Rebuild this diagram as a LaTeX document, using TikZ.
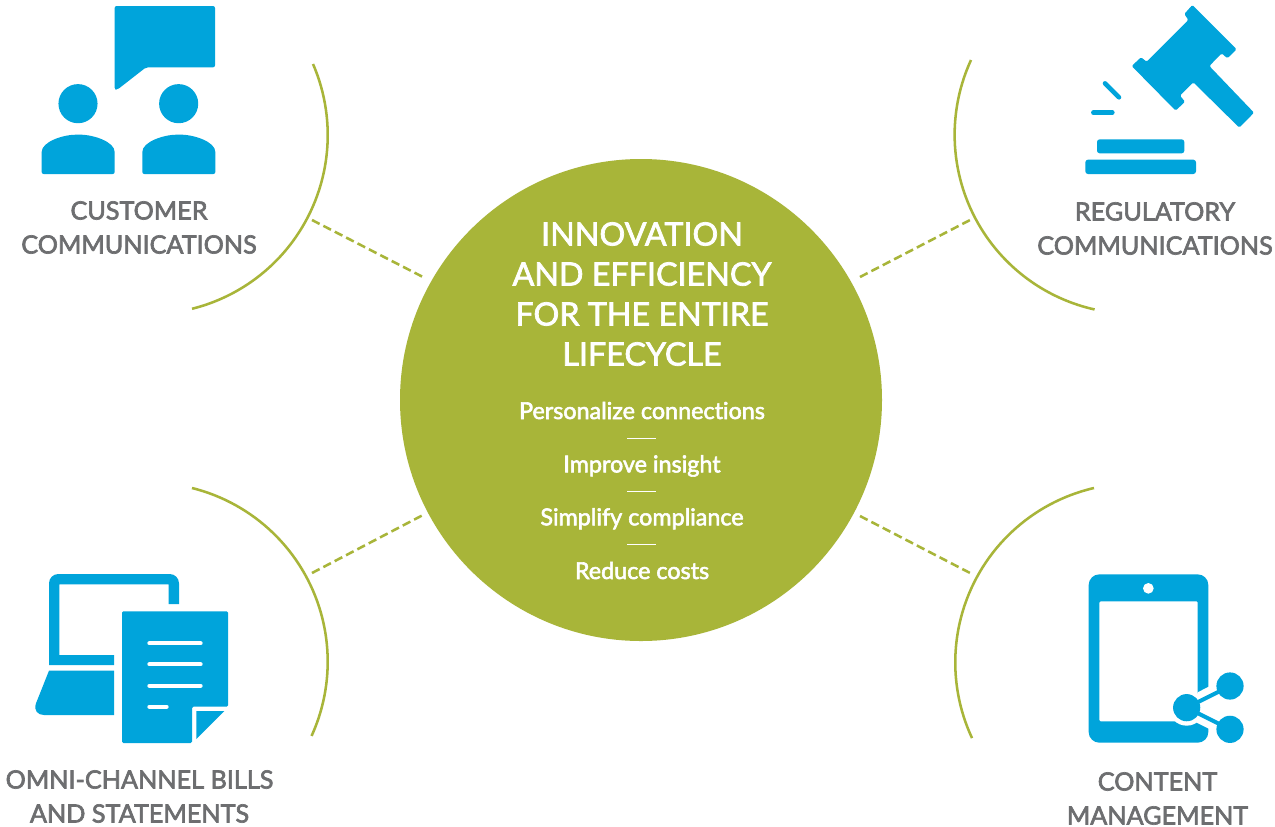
\documentclass[tikz,border=0pt]{standalone}
\usepackage{fontspec}
\setmainfont{Lato}
\newfontfamily\sidefont[FakeBold=2.6]{Lato}
\newfontfamily\titlefont[FakeBold=2.2]{Lato}
\newfontfamily\itemfont[FakeBold=2.4,Ligatures=NoCommon]{Lato}
\definecolor{iconblue}{HTML}{00A4DB}
\definecolor{leaf}{HTML}{A8B539}
\definecolor{labelgray}{HTML}{6D6E70}
\tikzset{
  hubdisc/.style={circle,fill=leaf,draw=none,minimum size=361.5pt,inner sep=0pt},
  bracket/.style={draw=leaf,line width=1.9pt},
  spoke/.style={draw=leaf,line width=1.9pt,dash pattern=on 6.4pt off 3.2pt},
  icon/.style={fill=iconblue,draw=none},
  knock/.style={fill=white,draw=none},
  sideline/.style={align=center,text=labelgray,inner sep=0pt,font=\sidefont\fontsize{18.9}{25.5}\selectfont},
  hubtitle/.style={align=center,text=white,inner sep=0pt,font=\titlefont\fontsize{24.2}{30}\selectfont},
  hubitem/.style={text=white,inner sep=0pt,anchor=base,font=\itemfont\fontsize{17.5}{19}\selectfont},
  rulemark/.style={draw=white,line width=0.6pt},
  zoomleft/.style={x=0.25pt,y=-0.25pt}
}
\begin{document}
\begin{tikzpicture}[x=0.75pt,y=-0.75pt]
\useasboundingbox (0,0) rectangle (1275,826);
\fill[white] (0,0) rectangle (1275,826);

% hub
\node[hubdisc] (hub) at (641,400) {};
\node[hubtitle] (title) at (642,294) {INNOVATION\\AND EFFICIENCY\\FOR THE ENTIRE\\LIFECYCLE};
\node[hubitem] (i1) at (642,419) {Personalize connections};
\node[hubitem] (i2) at (642,472.4) {Improve insight};
\node[hubitem] (i3) at (642,525.3) {Simplify compliance};
\node[hubitem] (i4) at (642,579) {Reduce costs};
\coordinate (r1a) at (627,438); \coordinate (r1b) at (656,438);
\coordinate (r2a) at (627,491); \coordinate (r2b) at (656,491);
\coordinate (r3a) at (627,544); \coordinate (r3b) at (656,544);
\draw[rulemark] (r1a) -- (r1b);
\draw[rulemark] (r2a) -- (r2b);
\draw[rulemark] (r3a) -- (r3b);

% brackets
\coordinate (tlA) at (313,64);
\coordinate (trA) at (971,60);
\coordinate (blA) at (192,488);
\coordinate (brA) at (1094,488);
\draw[bracket] (tlA) arc[start angle=23.4,end angle=-76,radius=134.25pt];
\draw[bracket] (trA) arc[start angle=155.3,end angle=257.4,radius=134.25pt];
\draw[bracket] (blA) arc[start angle=76,end angle=-24.5,radius=134.25pt];
\draw[bracket] (brA) arc[start angle=103,end angle=205,radius=134.25pt];

% spokes
\coordinate (s1a) at (423,277); \coordinate (s1b) at (312,220);
\coordinate (s2a) at (860,277); \coordinate (s2b) at (972,219);
\coordinate (s3a) at (423,515); \coordinate (s3b) at (312,573);
\coordinate (s4a) at (860,516); \coordinate (s4b) at (972,574);
\draw[spoke] (s1b) -- (s1a);
\draw[spoke] (s2a) -- (s2b);
\draw[spoke] (s3b) -- (s3a);
\draw[spoke] (s4a) -- (s4b);

% labels
\node[sideline] (lab1) at (139,227.5) {CUSTOMER\\COMMUNICATIONS};
\node[sideline] (lab2) at (1155,228.5) {REGULATORY\\COMMUNICATIONS};
\node[sideline] (lab3) at (139.5,796.5) {OMNI-CHANNEL BILLS\\AND STATEMENTS};
\node[sideline] (lab4) at (1157.5,798.5) {CONTENT\\MANAGEMENT};

% people icon (reference zoom units)
\begin{scope}[zoomleft]
\fill[icon,rounded corners=1.5pt] (344,18) -- (645,18) -- (645,202) -- (438,202) -- (352,269) -- (344,269) -- cycle;
\fill[icon] (234,311) circle[radius=44pt/3];
\fill[icon] (536,311) circle[radius=44pt/3];
\fill[icon,rounded corners=1.5pt] (125,522) -- (125,462) .. controls (125,425) and (190,404) .. (234,404) .. controls (280,404) and (344,425) .. (344,462) -- (344,522) -- cycle;
\fill[icon,rounded corners=1.5pt] (427,522) -- (427,462) .. controls (427,425) and (492,404) .. (536,404) .. controls (582,404) and (646,425) .. (646,462) -- (646,522) -- cycle;
\end{scope}

% gavel icon
\begin{scope}[shift={(940,0)},zoomleft]
\fill[icon,rounded corners=1pt] (757,15) -- (890,148) -- (862,175) -- (845,160) -- (808,198) -- (942,338) -- (898,383) -- (760,247) -- (720,287) -- (735,305) -- (707,332) -- (575,198) -- (603,172) -- (620,185) -- (745,60) -- (733,42) -- cycle;
\draw[iconblue,line width=3.4pt,line cap=round] (495,250) -- (537,292);
\draw[iconblue,line width=3.4pt,line cap=round] (460,338) -- (517,338);
\fill[icon,rounded corners=2pt] (471,418) rectangle (733,460);
\fill[icon,rounded corners=2pt] (436,479) rectangle (768,522);
\end{scope}

% laptop and document icon
\begin{scope}[shift={(0,560)},zoomleft]
\fill[icon] (147,315) -- (147,70) arc[start angle=180,end angle=90,radius=7pt] -- (509,42) arc[start angle=90,end angle=0,radius=7pt] -- (537,132) -- (506,132) -- (506,73) -- (178,73) -- (178,285) -- (342,285) -- (342,315) -- cycle;
\fill[icon] (147,332) -- (342,332) -- (342,465) -- (132,465) .. controls (114,465) and (100,452) .. (108,430) -- cycle;
\fill[icon,rounded corners=1pt] (366,154) -- (684,154) -- (684,440) -- (576,440) -- (576,549) -- (366,549) -- cycle;
\fill[icon] (589,453) -- (673,453) -- (589,537) -- cycle;
\draw[white,line width=3pt,line cap=round] (448,250) -- (602,250);
\draw[white,line width=3pt,line cap=round] (448,313) -- (602,313);
\draw[white,line width=3pt,line cap=round] (448,377) -- (602,377);
\draw[white,line width=3pt,line cap=round] (448,440) -- (500,440);
\end{scope}

% tablet icon
\begin{scope}[shift={(1050,560)},zoomleft]
\fill[icon,rounded corners=8pt] (116,43) rectangle (475,548);
\fill[knock,rounded corners=1pt] (148,124) rectangle (443,484);
\fill[knock] (295,85) circle[radius=4pt];
\fill[knock] (443,397) -- (480,378) -- (480,508) -- (440,488) -- cycle;
\fill[knock] (410,443) circle[radius=13.5pt];
\draw[iconblue,line width=3pt] (410,443) -- (540,378);
\draw[iconblue,line width=3pt] (410,443) -- (540,508);
\fill[icon] (410,443) circle[radius=10.2pt];
\fill[icon] (540,378) circle[radius=10.2pt];
\fill[icon] (540,508) circle[radius=10.2pt];
\end{scope}
\end{tikzpicture}
\end{document}
